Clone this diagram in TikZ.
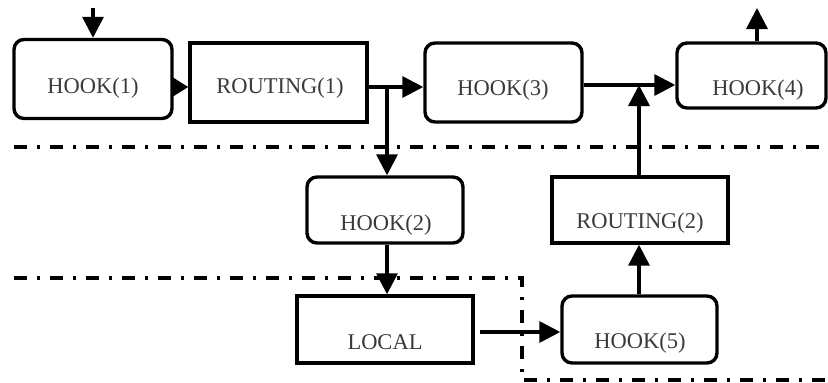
\documentclass[tikz,border=0pt]{standalone}
\usepackage{fontspec}
\setmainfont{Liberation Serif}
\usetikzlibrary{arrows.meta}
\definecolor{txtgray}{HTML}{3A3A3A}
\tikzset{
  hookbox/.style={draw, line width=3.4pt, rounded corners=10pt, inner sep=0pt},
  routebox/.style={draw, line width=3.4pt, inner sep=0pt},
  lbl/.style={text=txtgray, font=\fontsize{22.5}{26}\selectfont, inner sep=0pt},
  arr/.style={line width=3.4pt, -{Triangle[length=21pt,width=21pt]}},
  shortarr/.style={line width=3.4pt, -{Triangle[length=16pt,width=19pt]}},
  sep/.style={line width=3.4pt, dash pattern=on 13pt off 10pt on 3pt off 10pt}
}
\begin{document}
\begin{tikzpicture}[x=1pt,y=-1pt]
\useasboundingbox (0,0) rectangle (828,383);
% boxes
\node[hookbox, minimum width=158pt, minimum height=79pt] (h1) at (93,79) {};
\node[routebox, minimum width=177pt, minimum height=79pt] (r1) at (278.5,82.5) {};
\node[hookbox, minimum width=157pt, minimum height=79pt] (h3) at (503.5,82.5) {};
\node[hookbox, minimum width=149pt, minimum height=65pt] (h4) at (751.5,75.5) {};
\node[hookbox, minimum width=156pt, minimum height=66pt] (h2) at (385,210) {};
\node[routebox, minimum width=176pt, minimum height=66pt] (r2) at (640,210) {};
\node[routebox, minimum width=176pt, minimum height=67pt] (loc) at (385,329.5) {};
\node[hookbox, minimum width=155pt, minimum height=67pt] (h5) at (639.5,329.5) {};
% labels
\node[lbl] (t1) at (93,88) {HOOK(1)};
\node[lbl] (t2) at (280,88) {ROUTING(1)};
\node[lbl] (t3) at (503,90) {HOOK(3)};
\node[lbl] (t4) at (758,90) {HOOK(4)};
\node[lbl] (t5) at (386,225) {HOOK(2)};
\node[lbl] (t6) at (640,223) {ROUTING(2)};
\node[lbl] (t7) at (385,342) {LOCAL};
\node[lbl] (t8) at (640,343) {HOOK(5)};
% separators
\coordinate (s1a) at (14,147);
\coordinate (s1b) at (828,147);
\coordinate (s2a) at (14,278);
\coordinate (s2b) at (522,278);
\coordinate (s2c) at (522,380);
\coordinate (s2d) at (828,380);
\draw[sep] (s1a) -- (s1b);
\draw[sep] (s2a) -- (s2b) -- (s2c) -- (s2d);
% connectors
\coordinate (in) at (93,8);
\coordinate (out) at (757,8);
\coordinate (br) at (387,87);
\coordinate (jn) at (639,85);
\draw[arr] (in) -- (h1.north -| in);
\draw[shortarr] (h1.east |- 0,87) -- (r1.west |- 0,87);
\draw[line width=3.4pt] (r1.east |- br) -- (br);
\draw[arr] (br) -- (h3.west |- br);
\draw[arr] (br) -- (h2.north -| br);
\draw[arr] (h3.east |- 0,85) -- (h4.west |- 0,85);
\draw[arr] (r2.north -| jn) -- (jn);
\draw[arr] (h4.north -| out) -- (out);
\draw[arr] (h2.south -| br) -- (loc.north -| br);
\draw[arr] ([xshift=5pt]loc.east |- 0,332) -- (h5.west |- 0,332);
\draw[arr] (h5.north -| jn) -- (r2.south -| jn);
\end{tikzpicture}
\end{document}
